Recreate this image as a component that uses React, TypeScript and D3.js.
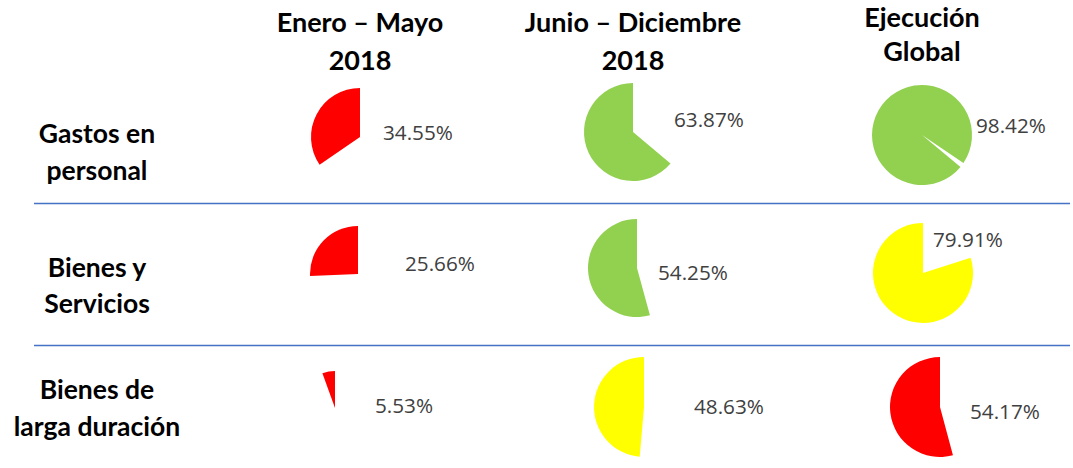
import React from "react";
import * as d3 from "d3";

// rubros (filas) y periodos (columnas)
const rubros = [
  ["Gastos en", "personal"],
  ["Bienes y", "Servicios"],
  ["Bienes de", "larga duración"],
];
const periodos = [
  ["Enero – Mayo", "2018"],
  ["Junio – Diciembre", "2018"],
  ["Ejecución", "Global"],
];

// % de ejecución por rubro, columnas = periodos
const gastosPersonal = [34.55, 63.87, 98.42];
const bienesServicios = [25.66, 54.25, 79.91];
const bienesLargaDuracion = [5.53, 48.63, 54.17];
const ejecucion = [gastosPersonal, bienesServicios, bienesLargaDuracion];

// semáforo de cada celda
const semaforo = [
  ["rojo", "verde", "verde"],
  ["rojo", "verde", "amarillo"],
  ["rojo", "amarillo", "rojo"],
];

const colores: Record<string, string> = {
  rojo: "#FF0000",
  verde: "#92D050",
  amarillo: "#FFFF00",
};

// ajustes de cada celda: desplazamiento del pastel, radio, giro y etiqueta
const ajustes = [
  [
    { dx: 0, dy: 2, r: 49, giro: 0, lx: 23, ly: -3 },
    { dx: -8, dy: -3, r: 49, giro: 0, lx: 41, ly: -11 },
    { dx: 0, dy: 0, r: 50, giro: 124, lx: 54, ly: -8 },
  ],
  [
    { dx: -2, dy: 3, r: 48, giro: 0, lx: 47, ly: -9 },
    { dx: -4, dy: -3, r: 49, giro: 0, lx: 21, ly: 6 },
    { dx: 1, dy: 2, r: 50, giro: 0, lx: 10, ly: -32 },
  ],
  [
    { dx: -25, dy: 1, r: 37, giro: 0, lx: 40, ly: -1 },
    { dx: 3, dy: 0, r: 50, giro: 0, lx: 50, ly: 1 },
    { dx: 18, dy: 0, r: 50, giro: 0, lx: 30, ly: 6 },
  ],
];

const W = 1073;
const H = 468;

export default function App() {
  const x = d3
    .scalePoint<number>()
    .domain(periodos.map((_, i) => i))
    .range([360, 922]);
  const y = d3
    .scalePoint<number>()
    .domain(rubros.map((_, i) => i))
    .range([135, 407]);

  const arc = d3.arc<d3.PieArcDatum<number>>().innerRadius(0);
  const fmt = (v: number) => v.toFixed(2) + "%";

  const headerBase = [
    [32, 70],
    [32, 70],
    [27, 61],
  ];
  const rowBase = [
    [143, 180],
    [277, 313],
    [399, 436],
  ];
  // separadores entre filas
  const separadores = [203.5, 345.5];

  return (
    <svg
      width={W}
      height={H}
      style={{ position: "absolute", left: 0, top: 0, background: "white" }}
    >
      {periodos.map((p, j) => (
        <g key={"h" + j}>
          {p.map((t, k) => (
            <text
              key={k}
              x={(x(j) ?? 0) + (j === 1 ? -8 : 0)}
              y={headerBase[j][k]}
              textAnchor="middle"
              style={{ fontFamily: "Lato", fontWeight: 700, fontSize: 27, fill: "#000" }}
            >
              {t}
            </text>
          ))}
        </g>
      ))}

      {rubros.map((r, i) => (
        <g key={"r" + i}>
          {r.map((t, k) => (
            <text
              key={k}
              x={97}
              y={rowBase[i][k]}
              textAnchor="middle"
              style={{ fontFamily: "Lato", fontWeight: 700, fontSize: 26.5, fill: "#000" }}
            >
              {t}
            </text>
          ))}
        </g>
      ))}

      {separadores.map((yy, i) => (
        <line
          key={"l" + i}
          x1={34}
          x2={1070}
          y1={yy}
          y2={yy}
          stroke="#4472C4"
          strokeWidth={1.3}
        />
      ))}

      {ejecucion.map((fila, i) =>
        fila.map((v, j) => {
          const a = ajustes[i][j];
          const cx = (x(j) ?? 0) + a.dx;
          const cy = (y(i) ?? 0) + a.dy;
          const rot = (a.giro * Math.PI) / 180;
          const pie = d3
            .pie<number>()
            .sort(null)
            .value((d) => d)
            .startAngle(rot)
            .endAngle(rot - 2 * Math.PI);
          const slices = pie([v, 100 - v]);
          return (
            <g key={i + "-" + j}>
              <path
                transform={`translate(${cx},${cy})`}
                d={arc.outerRadius(a.r)(slices[0]) ?? ""}
                fill={colores[semaforo[i][j]]}
              />
              <text
                x={cx + a.lx}
                y={cy + a.ly}
                dominantBaseline="middle"
                style={{ fontFamily: "Open Sans", fontSize: 20.7, fill: "#404040" }}
              >
                {fmt(v)}
              </text>
            </g>
          );
        })
      )}
    </svg>
  );
}
